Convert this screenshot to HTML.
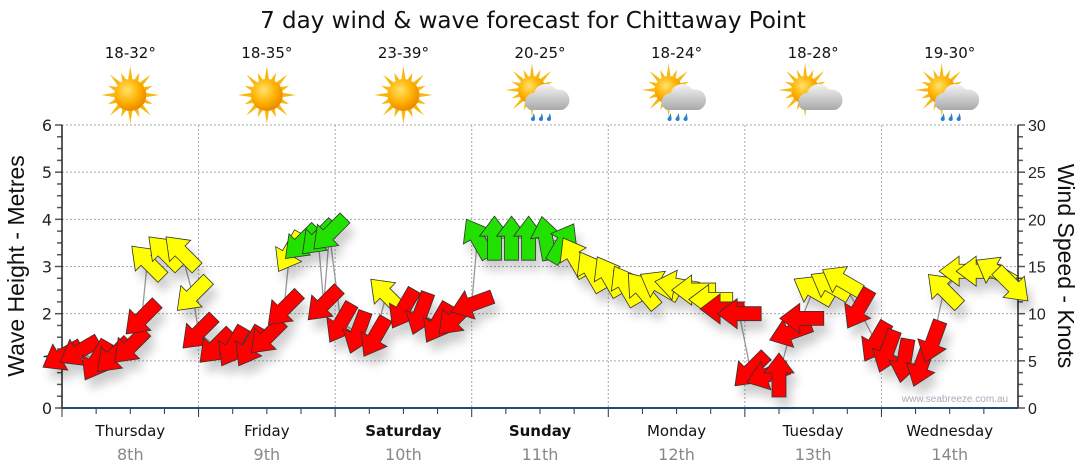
<!DOCTYPE html>
<html><head><meta charset="utf-8"><style>
body{margin:0;background:#fff;}
svg{display:block;font-family:"Liberation Sans",sans-serif;}
.dv{font-family:"DejaVu Sans","Liberation Sans",sans-serif;}
</style></head><body>
<svg id="chart" width="1080" height="475" viewBox="0 0 1080 475">
<defs>
<radialGradient id="sunG" cx="40%" cy="35%" r="65%"><stop offset="0" stop-color="#ffe36a"/><stop offset="0.6" stop-color="#ffb000"/><stop offset="1" stop-color="#e88a00"/></radialGradient>
<linearGradient id="cloudG" x1="0" y1="0" x2="0" y2="1"><stop offset="0" stop-color="#f4f4f4"/><stop offset="1" stop-color="#a9a9a9"/></linearGradient>
<filter id="sh" x="-50%" y="-50%" width="200%" height="200%"><feGaussianBlur stdDeviation="5"/></filter>
</defs>
<text class="dv" x="533" y="28" text-anchor="middle" font-size="23" fill="#111">7 day wind &amp; wave forecast for Chittaway Point</text>
<g id="topg"></g>
<g id="grid"></g>
<g id="axes"></g>
<g id="marks"></g>
<text x="955" y="402" text-anchor="middle" font-size="10" fill="#aab">www.seabreeze.com.au</text>
<text transform="translate(24,266) rotate(-90)" text-anchor="middle" font-size="23" fill="#111">Wave Height - Metres</text>
<text transform="translate(1058,266) rotate(90)" text-anchor="middle" font-size="23" fill="#111">Wind Speed - Knots</text>
</svg>
<script>
const days=["Thursday","Friday","Saturday","Sunday","Monday","Tuesday","Wednesday"];
const dates=["8th","9th","10th","11th","12th","13th","14th"];
const temps=["18-32°","18-35°","23-39°","20-25°","18-24°","18-28°","19-30°"];
const weather=["sun","sun","sun","rain","rain","cloud","rain"];
const leftTicks=[0,1,2,3,4,5,6];
const rightTicks=[0,5,10,15,20,25,30];
const hours=[0,3,6,9,12,14,15,18,21,23, 24,27,30,33,36,39,40,42,45,47,46, 49,52,55,57,60,63,66,69,72, 73,76,79,82,85,88,90,93,96, 99,102,105,108,111,114,116,119, 121,124,126,128,130,132,135,137,140,143, 145,148,151,153,155,158,161,164,167];
const waveHeight=[1.1,1.2,1.0,1.1,1.3,1.9,3.1,3.3,3.3,2.4, 1.6,1.3,1.3,1.3,1.5,2.1,3.3,3.5,3.6,3.7,2.2, 1.8,1.6,1.5,2.4,2.1,2.0,1.8,1.9,2.2, 3.6,3.6,3.6,3.6,3.6,3.5,3.2,2.9,2.8, 2.6,2.5,2.6,2.6,2.5,2.3,2.1,2.0, 0.8,0.7,0.7,1.6,1.9,2.5,2.6,2.7,2.1,1.4, 1.2,1.0,0.9,1.4,2.5,2.9,2.9,2.9,2.6];
const windDir=[150,150,120,135,135,135,-135,-135,-135,135, 135,135,120,120,135,135,120,135,135,135,135, 120,110,120,-135,120,110,120,135,160, -120,-90,-90,-90,-100,-60,-120,-120,-120, -120,-130,-150,-170,180,180,180,180, 135,160,-90,160,180,-150,-150,-150,120,120, 110,100,110,110,-135,180,180,-150,45];
const windColor=["r","r","r","r","r","r","y","y","y","y", "r","r","r","r","r","r","y","g","g","g","r", "r","r","r","y","r","r","r","r","r", "g","g","g","g","g","g","y","y","y", "y","y","y","y","y","y","r","r", "r","r","r","r","r","y","y","y","r","r", "r","r","r","r","y","y","y","y","y"];

const NS="http://www.w3.org/2000/svg";
const X0=62,X1=1018,Y0=408,Y1=125;
const dayW=(X1-X0)/7;
const xs=h=>X0+h/24*dayW;
const yL=v=>Y0-(v/6)*(Y0-Y1);
const yR=v=>Y0-(v/30)*(Y0-Y1);
function mk(tag,attrs,parent){const e=document.createElementNS(NS,tag);for(const k in attrs)e.setAttribute(k,attrs[k]);parent.appendChild(e);return e;}
const grid=document.getElementById('grid'),axes=document.getElementById('axes'),marks=document.getElementById('marks'),topG=document.getElementById('topg');

leftTicks.forEach(v=>{
  if(v>0){const l=mk('line',{x1:X0,x2:X1,y1:yL(v),y2:yL(v),stroke:'#aaa','stroke-dasharray':'2,2'},grid);
  
  }
  const t=mk('text',{x:X0-10,y:yL(v)+6,'text-anchor':'end','font-size':16,fill:'#222',class:'dv'},axes);t.textContent=v;
  
  
});
rightTicks.forEach(v=>{
  const t=mk('text',{x:X1+10,y:yR(v)+6,'text-anchor':'start','font-size':16,fill:'#222'},axes);t.textContent=v;
  
  
});
for(let i=0;i<=24;i++){const v=i*0.25;const len=(i%4==0)?7:5;
  mk('line',{x1:X0-len,x2:X0,y1:yL(v),y2:yL(v),stroke:'#555','stroke-width':1.5},axes);
  mk('line',{x1:X1,x2:X1+len,y1:yL(v),y2:yL(v),stroke:'#555','stroke-width':1.5},axes);}
for(let d=0;d<=7;d++){
  const x=X0+d*dayW;
  if(d>0&&d<7){const l=mk('line',{x1:x,x2:x,y1:Y1,y2:Y0,stroke:'#aaa','stroke-dasharray':'2,2'},grid);
  
  }
  for(let q=0;q<4&&d<7;q++){mk('line',{x1:x+q*dayW/4,x2:x+q*dayW/4,y1:Y0,y2:Y0+(q==0?9:6),stroke:'#333'},axes);}
}
mk('line',{x1:X0,x2:X0,y1:Y1,y2:Y0,stroke:'#222','stroke-width':1.5},axes);
mk('line',{x1:X1,x2:X1,y1:Y1,y2:Y0,stroke:'#222','stroke-width':1.5},axes);
mk('line',{x1:X0,x2:X1,y1:Y0,y2:Y0,stroke:'#1d4f7a','stroke-width':2},axes);

function sun(g,cx,cy,r){
  for(let i=0;i<16;i++){const a=i*Math.PI/8,L=(i%2?r+8:r+13);
    const p=[[cx+Math.cos(a)*L,cy+Math.sin(a)*L],[cx+Math.cos(a+0.13)*r,cy+Math.sin(a+0.13)*r],[cx+Math.cos(a-0.13)*r,cy+Math.sin(a-0.13)*r]];
    mk('polygon',{points:p.map(q=>q.join(',')).join(' '),fill:'#f6b80c'},g);}
  mk('circle',{cx,cy,r,fill:'url(#sunG)'},g);
}
days.forEach((d,i)=>{
  const cx=X0+(i+0.5)*dayW;
  const t=mk('text',{x:cx,y:58,'text-anchor':'middle','font-size':15,fill:'#111',class:'dv'},topG);t.textContent=temps[i];
  
  
  const g=mk('g',{},topG);
  
  
  const w=weather[i];
  if(w=='sun'){sun(g,cx,95,16);}
  else{sun(g,cx-8,90,14);
    mk('path',{d:`M${cx-10},${110} a9,9 0 0 1 4,-17 a12,12 0 0 1 22,-3 a9,9 0 0 1 6,20 z`,fill:'url(#cloudG)'},g);
    if(w=='rain'){[-6,2,10].forEach(o=>{mk('path',{d:`M${cx+o},113 l-2,5 l3,0 z`,fill:'#2a7fd0'},g);mk('circle',{cx:cx+o-1,cy:119,r:2,fill:'#2a7fd0'},g);});}}
  const dn=mk('text',{x:cx,y:436,'text-anchor':'middle','font-size':15,fill:'#111',class:'dv','font-weight':(i==2||i==3)?'bold':'normal'},axes);dn.textContent=d;
  
  
  const dt=mk('text',{x:cx,y:460,'text-anchor':'middle','font-size':16,fill:'#888',class:'dv'},axes);dt.textContent=dates[i];
  
  
});

const order=hours.map((h,i)=>i).sort((a,b)=>hours[a]-hours[b]);
const pl=mk('polyline',{points:order.map(i=>xs(hours[i])+','+yL(waveHeight[i])).join(' '),fill:'none',stroke:'#999','stroke-width':1.3},marks);


const cols={r:'#ff0000',y:'#ffff00',g:'#22e000'};
const shape="-22,-7 2,-7 2,-15 22,0 2,15 2,7 -22,7";
const sg=mk('g',{filter:'url(#sh)',opacity:0.2},marks);
hours.forEach((h,i)=>{mk('polygon',{points:shape,fill:'#000',transform:`translate(${xs(h)+5},${yL(waveHeight[i])+10}) rotate(${windDir[i]})`},sg);});
hours.forEach((h,i)=>{
  const p=mk('polygon',{points:shape,fill:cols[windColor[i]],stroke:'#333','stroke-width':0.8,transform:`translate(${xs(h)},${yL(waveHeight[i])}) rotate(${windDir[i]})`},marks);
  
  
});
</script>
</body></html>
